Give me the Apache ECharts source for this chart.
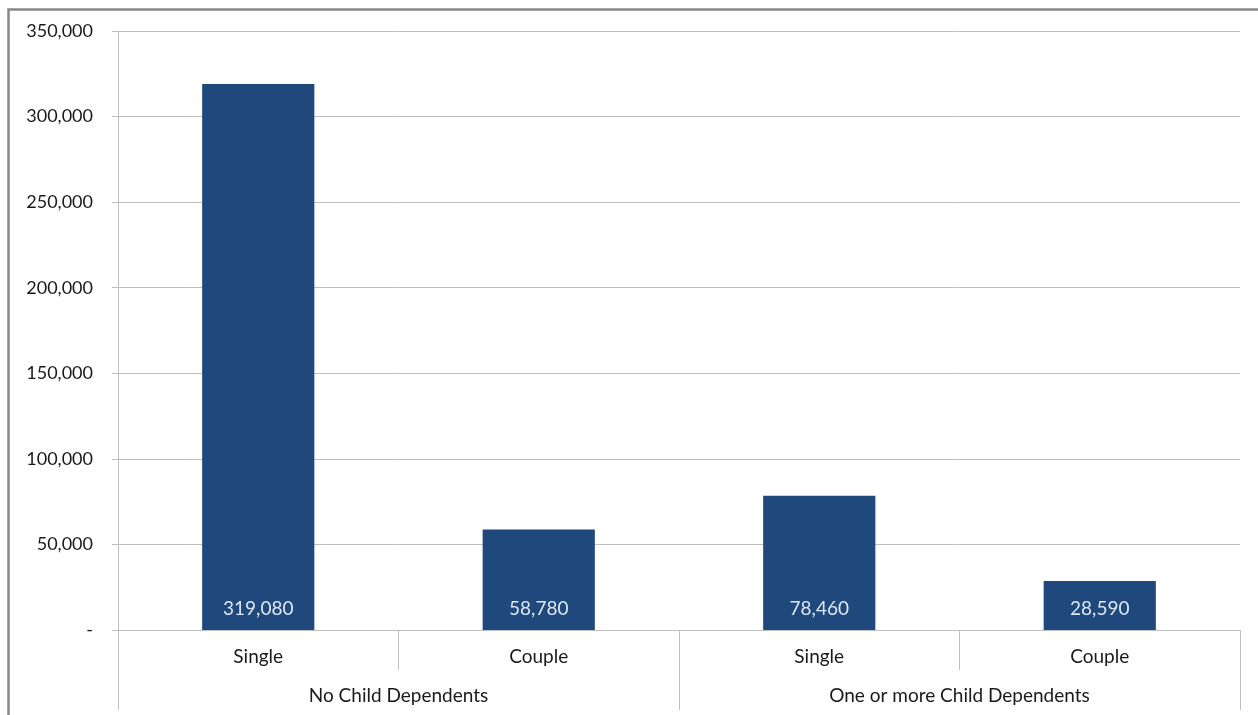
<!DOCTYPE html>
<html>
<head>
<meta charset="utf-8">
<script src="https://cdn.jsdelivr.net/npm/echarts@6/dist/echarts.min.js"></script>
<style>
  html, body { margin: 0; padding: 0; background: #fff; }
  #chart { width: 1258px; height: 715px; }
</style>
</head>
<body>
<div id="chart"></div>
<script>
// Household types (inner level) and dependents groups (outer level)
const householdTypes = ['Single', 'Couple', 'Single', 'Couple'];
const dependentGroups = ['No Child Dependents', 'One or more Child Dependents'];
const counts = [319080, 58780, 78460, 28590];
const yTicks = { min: 0, max: 350000, step: 50000 };

const FONT = 'Lato';
const GRID_GRAY = '#bfbfbf';
const AXIS_GRAY = '#bfbfbf';
const TEXT = '#1a1a1a';

function withCommas(v) {
  return String(v).replace(/\B(?=(\d{3})+(?!\d))/g, ',');
}

const chart = echarts.init(document.getElementById('chart'), null, { renderer: 'canvas' });

chart.setOption({
  animation: false,
  backgroundColor: '#fff',
  grid: { left: 118, right: 18, top: 31, bottom: 85 },
  graphic: [{
    type: 'rect',
    shape: { x: 8.5, y: 9.5, width: 1400, height: 900 },
    style: { fill: 'none', stroke: '#888888', lineWidth: 2.5 },
    silent: true,
    z: 100
  }],
  xAxis: [
    {
      type: 'category',
      data: householdTypes,
      position: 'bottom',
      axisLine: { show: true, lineStyle: { color: AXIS_GRAY, width: 1 } },
      axisTick: { show: true, interval: 0, length: 40, lineStyle: { color: AXIS_GRAY } },
      axisLabel: { interval: 0, margin: 17, color: TEXT, fontFamily: FONT, fontSize: 19 },
      splitLine: { show: false }
    },
    {
      type: 'category',
      data: dependentGroups,
      position: 'bottom',
      gridIndex: 0,
      axisLine: { show: false },
      axisTick: { show: true, interval: 0, length: 80, lineStyle: { color: AXIS_GRAY } },
      axisLabel: { interval: 0, margin: 56, color: TEXT, fontFamily: FONT, fontSize: 19 },
      splitLine: { show: false }
    }
  ],
  yAxis: {
    type: 'value',
    min: yTicks.min,
    max: yTicks.max,
    interval: yTicks.step,
    axisLine: { show: true, lineStyle: { color: AXIS_GRAY, width: 1 } },
    axisTick: { show: true, length: 6, lineStyle: { color: AXIS_GRAY } },
    axisLabel: {
      margin: 25,
      color: TEXT,
      fontFamily: FONT,
      fontSize: 18,
      formatter: v => (v === 0 ? '-' : withCommas(v))
    },
    splitLine: { show: true, lineStyle: { color: GRID_GRAY, width: 1 } }
  },
  series: [{
    type: 'bar',
    xAxisIndex: 0,
    data: counts,
    barWidth: '40%',
    itemStyle: { color: '#1f497d' },
    label: {
      show: true,
      position: 'insideBottom',
      distance: 12,
      color: '#dce6f2',
      fontFamily: FONT,
      fontSize: 19,
      formatter: p => withCommas(p.value)
    }
  }]
});
</script>
</body>
</html>
